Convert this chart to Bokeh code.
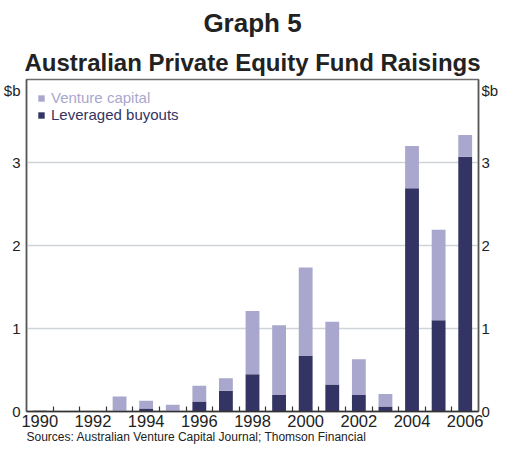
from bokeh.plotting import figure
from bokeh.models import (FixedTicker, LinearAxis, Range1d, Title, Legend, LegendItem)
from bokeh.embed import file_html
from bokeh.resources import INLINE

years = [1990, 1991, 1992, 1993, 1994, 1995, 1996, 1997, 1998, 1999,
         2000, 2001, 2002, 2003, 2004, 2005, 2006]
leveraged_buyouts = [0.01, 0.0, 0.0, 0.0, 0.035, 0.0, 0.12, 0.25, 0.45, 0.20,
                     0.67, 0.325, 0.20, 0.06, 2.69, 1.10, 3.07]
venture_capital = [0.0, 0.0, 0.0, 0.18, 0.095, 0.08, 0.19, 0.15, 0.76, 0.84,
                   1.065, 0.755, 0.43, 0.15, 0.51, 1.09, 0.26]
x_tick_years = [1990, 1992, 1994, 1996, 1998, 2000, 2002, 2004, 2006]
y_ticks = [0, 1, 2, 3]
unit_label = "$b"
unit_pos = 3.87

FONT = "Liberation Sans"
VC_COLOR = "#a9a7cd"
LBO_COLOR = "#333463"
TEXT = "#222222"

p = figure(width=501, height=445, output_backend="svg", toolbar_location=None,
           x_range=Range1d(1989.5, 2006.5), y_range=Range1d(0, 4),
           min_border_left=24, min_border_right=0, min_border_top=0,
           min_border_bottom=0, x_axis_location=None, y_axis_location=None)

p.outline_line_color = "#6f6f6f"
p.outline_line_width = 1.5
p.background_fill_color = "white"
p.border_fill_color = "white"

src = dict(year=years, lbo=leveraged_buyouts, vc=venture_capital)
renderers = p.vbar_stack(["lbo", "vc"], x="year", width=0.52, color=[LBO_COLOR, VC_COLOR],
                         line_color=None, source=src)

# axes
xaxis = LinearAxis(ticker=FixedTicker(ticks=x_tick_years,
                                      minor_ticks=[y + 0.5 for y in years[:-1]]))
xaxis.major_tick_line_color = None
xaxis.major_tick_in = 0
xaxis.major_tick_out = 0
xaxis.minor_tick_in = 5
xaxis.minor_tick_out = 0
xaxis.minor_tick_line_color = "#333333"
xaxis.minor_tick_line_width = 1.2
xaxis.axis_line_color = "#333333"
xaxis.axis_line_width = 1.5
xaxis.major_label_standoff = 3
xaxis.major_label_text_font = FONT
xaxis.major_label_text_font_size = "16.5px"
xaxis.major_label_text_color = TEXT
p.add_layout(xaxis, "below")

for side in ("left", "right"):
    ax = LinearAxis(ticker=FixedTicker(ticks=y_ticks + [unit_pos]))
    ax.major_label_overrides = {unit_pos: unit_label}
    ax.major_tick_line_color = None
    ax.major_tick_in = 0
    ax.major_tick_out = 0
    ax.minor_tick_line_color = None
    ax.axis_line_color = "#555555"
    ax.axis_line_width = 1.5
    ax.major_label_standoff = 6 if side == "left" else 3
    ax.major_label_text_font = FONT
    ax.major_label_text_font_size = "15px"
    ax.major_label_text_color = TEXT
    p.add_layout(ax, side)

p.xgrid.grid_line_color = None
p.ygrid.ticker = FixedTicker(ticks=[1, 2, 3])
p.ygrid.grid_line_color = "#cfd4d9"
p.ygrid.grid_line_width = 1.5

# legends (two, so each label keeps its own colour)
leg_vc = Legend(items=[LegendItem(label="Venture capital", renderers=[renderers[1]])],
                location=(11, 305), label_text_color=VC_COLOR)
leg_lbo = Legend(items=[LegendItem(label="Leveraged buyouts", renderers=[renderers[0]])],
                 location=(11, 288), label_text_color=LBO_COLOR)
for lg in (leg_vc, leg_lbo):
    lg.background_fill_alpha = 0
    lg.border_line_color = None
    lg.padding = 0
    lg.margin = 0
    lg.spacing = 0
    lg.glyph_width = 8
    lg.glyph_height = 8
    lg.label_height = 16
    lg.label_standoff = 6
    lg.label_text_font = FONT
    lg.label_text_font_size = "15px"
    lg.label_text_baseline = "middle"
    p.add_layout(lg)

# titles
p.add_layout(Title(text="Australian Private Equity Fund Raisings", align="center",
                   text_font=FONT, text_font_size="24px", text_font_style="bold",
                   text_color=TEXT, standoff=7), "above")
p.add_layout(Title(text="Graph 5", align="center", text_font=FONT, text_font_size="26px",
                   text_font_style="bold", text_color=TEXT, standoff=11), "above")
p.add_layout(Title(text="Sources: Australian Venture Capital Journal; Thomson Financial",
                   align="left", vertical_align="top", text_font=FONT, text_font_size="12px",
                   text_font_style="normal", text_color=TEXT, standoff=0), "below")

open("out.html", "w").write(file_html(p, INLINE))
